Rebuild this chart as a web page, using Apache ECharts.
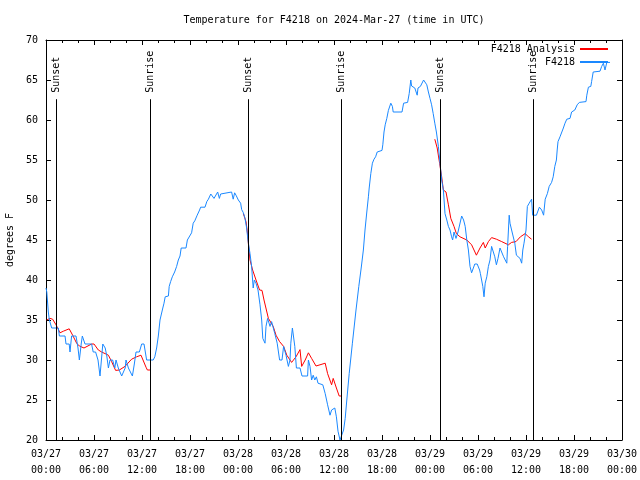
<!DOCTYPE html>
<html>
<head>
<meta charset="utf-8">
<script src="https://cdn.jsdelivr.net/npm/echarts@6/dist/echarts.min.js"></script>
<style>
html,body{margin:0;padding:0;background:#fff;}
#chart{width:640px;height:480px;}
</style>
</head>
<body>
<div id="chart"></div>
<script>
// ---- Data (hours since 2024-03-27 00:00 UTC, temperatures in degrees F) ----
const chartTitle = 'Temperature for F4218 on 2024-Mar-27 (time in UTC)';
const yAxisTitle = 'degrees F';
const xDateLabels = ['03/27','03/27','03/27','03/27','03/28','03/28','03/28','03/28','03/29','03/29','03/29','03/29','03/30'];
const xTimeLabels = ['00:00','06:00','12:00','18:00','00:00','06:00','12:00','18:00','00:00','06:00','12:00','18:00','00:00'];
const yMin = 20, yMax = 70, yStep = 5;
const xMin = 0, xMax = 72, xStep = 6;

const seriesNames = ['F4218 Analysis', 'F4218'];

// Observations (F4218)
const obsHours = [
  0.0,0.1,0.29,0.42,0.71,1.54,1.67,2.38,2.5,2.9,3.0,3.2,3.75,4.0,4.17,4.4,4.54,4.875,5.7,5.9,6.2,6.5,6.75,7.1,7.4,7.6,7.8,8.0,8.33,8.6,8.75,9.04,9.46,9.9,10.0,10.3,10.8,11.04,11.25,11.67,11.96,12.25,12.58,13.4,13.6,13.83,14.04,14.25,
  14.34,14.6,14.75,14.9,15.3,15.4,15.58,15.79,16.08,16.33,16.54,16.75,16.9,17.5,17.67,17.9,18.2,18.4,18.6,18.9,19.2,19.33,19.875,20.1,20.3,20.6,20.7,21.0,21.25,21.46,21.67,21.83,22.0,23.2,23.4,23.58,23.75,24.04,24.33,24.46,24.67,24.875,25.08,
  25.2,25.3,25.5,25.7,25.9,26.04,26.25,26.5,26.75,26.96,27.1,27.375,27.5,27.7,28.0,28.2,28.4,28.6,28.9,29.2,29.5,29.7,30.0,30.3,30.5,30.6,30.8,31.0,31.1,31.3,31.75,32.0,32.7,32.8,33.0,33.2,33.4,33.6,33.8,34.0,34.6,34.9,35.2,35.5,35.7,36.1,36.3,36.5,36.75,37.0,37.2,37.4,37.6,37.9,38.3,38.75,39.1,39.4,
  39.67,39.875,40.1,40.3,40.4,40.6,40.8,41.0,41.2,41.4,42.0,42.1,42.25,42.4,42.6,42.8,43.1,43.3,43.4,44.5,44.7,45.2,45.4,45.6,45.7,46.1,46.4,46.5,46.8,47.2,47.4,47.6,47.8,48.0,48.2,48.4,48.6,
  48.8,49.05,49.25,49.46,49.67,49.875,50.1,50.3,50.5,50.7,50.83,51.0,51.25,51.5,51.75,51.96,52.2,52.4,52.6,52.8,53.0,53.2,53.4,53.6,53.9,54.2,54.3,54.6,54.75,54.9,55.1,55.3,55.5,55.7,55.9,56.1,56.3,56.5,56.75,56.96,57.2,57.4,57.6,57.7,57.9,58.0,58.2,58.4,58.6,58.8,59.04,59.25,59.46,59.6,59.75,59.9,60.0,60.17,60.4,60.7,
  60.83,61.3,61.67,61.96,62.2,62.4,62.67,62.9,63.2,63.4,63.6,63.8,63.9,64.0,64.25,64.46,64.67,64.875,65.1,65.5,65.7,66.1,66.4,66.67,67.5,67.6,67.8,68.1,68.2,68.4,69.25,69.46,69.67,69.875,70.1,70.5
];
const obsTemps = [
  39,38.5,36,35,34,34,33,33,32,32,31,33,33,31.5,30,32,33,32,32,31,31,30,28,32,31.5,30.5,29,30,30,29,30,29,28,29,30,29,28,29.5,31,31,32,32,30,30,30.4,31.5,33,35,
  35,36.5,37.1,37.9,38,39.2,39.8,40.4,41,41.7,42.5,43,44,44,45,45.2,45.9,47.1,47.4,48.1,48.75,49.1,49.1,49.8,50.1,50.75,51,50.2,50.1,51,50.2,50.75,51,51,50.1,50.9,50.6,50,49.6,48.8,48.4,47.7,46.5,
  45.4,44.6,43.3,41.7,39,40,39.6,38.75,36.9,35,32.7,32.1,34.2,35.2,34.2,34.8,35,33.3,32.1,30,30,31.7,30.6,29.2,30,32.1,34,34,31.7,29,29,28,28,30,29.2,27.5,28.1,27.5,27.9,27.1,26.9,25.8,24.4,23.1,23.75,24,22.9,21.1,20,20,21.25,22.7,25,28.3,32.1,36.25,39.2,41.5,
  43.75,46.25,48.5,50.4,51.5,53.3,54.6,55.1,55.4,56,56.2,56.9,58.5,59.4,60.2,61.2,62.1,61.7,61,61,62.1,62.2,63.3,65,64.25,64,63.1,64,64.2,65,65,64.4,63.5,62.7,61.9,60.8,59.6,
  58.5,56.7,54.6,52.5,51.25,48.3,47.5,46.7,46.25,45.4,45,46,45.2,46,46,48,47.5,46.7,45,43.75,41.7,40.9,40.9,42,42,41.25,40.8,39.2,37.9,39.6,40.4,41.7,42.5,44.2,44,42.9,41.9,42.7,44,44,42.9,42.7,42.1,44.2,48.1,47.1,46.25,46.25,44.6,43.1,42.9,42.7,42.1,43.75,44.6,44.4,46.25,49.2,49.6,50.1,
  48.1,48.1,49.1,48.75,48.1,50.1,50.8,51.7,52.2,52.9,54.2,55,56.25,57.3,57.9,58.1,59,59.6,60.1,60.2,61,61.25,61.9,62.2,62.3,63.1,64.1,64.2,64.8,66,66.1,66.7,67.1,66.25,67.2,67.2
];

// Analysis (F4218 Analysis), null = gap between nights
const anaHours = [
  0.08,0.5,0.83,1.25,1.75,2.17,2.9,3.33,3.83,4.17,4.75,5.7,6.0,6.54,6.96,7.8,8.2,8.7,9.17,9.875,10.7,11.33,11.875,12.08,12.5,12.67,13.0,
  18.0,
  24.67,25.0,25.17,25.33,25.5,25.83,26.25,26.7,27.0,27.25,27.8,28.4,28.75,29.2,29.7,30.1,30.7,31.25,31.75,31.96,32.4,32.8,33.2,33.75,34.25,34.9,35.2,35.7,35.9,36.3,36.65,36.875,
  42.0,
  48.6,48.75,48.9,49.2,49.46,49.67,50.0,50.3,50.6,51.0,51.3,51.75,52.6,53.2,53.8,54.25,54.67,54.9,55.3,55.7,56.3,56.96,57.8,58.2,58.75,59.3,59.9,60.3,60.7
];
const anaTemps = [
  35,35.2,35.1,34.4,33.4,33.6,33.9,33.1,32.1,31.75,31.5,32,32,31.25,31,30.6,29.8,28.7,28.75,29.2,30.1,30.4,30.6,30.4,29.1,28.75,28.75,
  null,
  48.3,47.3,46,44.2,42.5,41.25,40,38.75,38.7,37.5,35.2,34.2,33.1,32.3,31.7,30.6,29.7,30.4,31.3,29.2,30,30.9,30.2,29.25,29.4,29.6,28.3,26.9,27.7,26.5,25.5,25.5,
  null,
  57.6,57.6,56.5,54.6,52.9,51.25,51,49.4,47.7,46.7,45.8,45.4,45,44.4,43.1,44,44.7,44,44.8,45.3,45.1,44.8,44.4,44.7,44.8,45.4,45.8,45.4,45.1
];

// Sunset / sunrise markers
const eventHours = [1.29, 13.04, 25.29, 36.91, 49.34, 60.96];
const eventNames = ['Sunset','Sunrise','Sunset','Sunrise','Sunset','Sunrise'];
const eventLineTop = 62.6;   // where the vertical line ends (data units)
const eventLabelBase = 63.4; // where the rotated label starts (data units)

// ---- Chart ----
const FONT = '"DejaVu Sans Mono", "Liberation Mono", monospace';
const txt = { fontFamily: FONT, fontSize: 10, color: '#000' };

const obsData = obsHours.map((h, i) => [h, obsTemps[i]]);
const anaData = anaHours.map((h, i) => [h, anaTemps[i] === null ? '-' : anaTemps[i]]);

const markData = [];
eventHours.forEach((h, i) => {
  markData.push([{ coord: [h, yMin] }, { coord: [h, eventLineTop] }]);
  markData.push([
    { coord: [h, eventLabelBase], lineStyle: { color: 'rgba(0,0,0,0)' },
      label: { show: true, position: 'insideStart', distance: 0, opacity: 1, formatter: eventNames[i],
               fontFamily: FONT, fontSize: 10, color: '#000' } },
    { coord: [h, yMax] }
  ]);
});

const tickCommon = {
  axisLine: { show: true, onZero: false, lineStyle: { color: '#000', width: 1 } },
  axisTick: { show: true, inside: true, length: 5, lineStyle: { color: '#000', width: 1 } },
  splitLine: { show: false }
};

const chart = echarts.init(document.getElementById('chart'), null, { renderer: 'canvas' });
chart.setOption({
  animation: false,
  backgroundColor: '#fff',
  textStyle: { fontFamily: FONT },
  grid: { left: 46, right: 18, top: 40, bottom: 40, containLabel: false, outerBoundsMode: 'none' },
  graphic: [{
    type: 'text', x: 334, y: 20, silent: true,
    style: { text: chartTitle, align: 'center', verticalAlign: 'middle', textAlign: 'center', textVerticalAlign: 'middle',
             font: '10px ' + FONT, fill: '#000' }
  }],
  legend: [
    { data: [seriesNames[0]], right: 31, top: 44, align: 'right', orient: 'vertical', padding: 0,
      itemWidth: 28, itemHeight: 10, itemStyle: { opacity: 0 }, selectedMode: false, textStyle: txt },
    { data: [seriesNames[1]], right: 31, top: 57, align: 'right', orient: 'vertical', padding: 0,
      itemWidth: 28, itemHeight: 10, itemStyle: { opacity: 0 }, selectedMode: false, textStyle: txt }
  ],
  xAxis: [
    Object.assign({
      type: 'value', position: 'bottom', min: xMin, max: xMax, interval: xStep,
      minorTick: { show: true, splitNumber: 3, length: 3, lineStyle: { color: '#000', width: 1 } },
      minorSplitLine: { show: false },
      axisLabel: {
        show: true, margin: 6, lineHeight: 16, fontFamily: FONT, fontSize: 10, color: '#000',
        formatter: v => { const k = Math.round((v - xMin) / xStep); return xDateLabels[k] + '\n' + xTimeLabels[k]; }
      }
    }, tickCommon),
    Object.assign({
      type: 'value', position: 'top', min: xMin, max: xMax, interval: xStep,
      minorTick: { show: true, splitNumber: 3, length: 3, lineStyle: { color: '#000', width: 1 } },
      minorSplitLine: { show: false },
      axisLabel: { show: false }
    }, tickCommon)
  ],
  yAxis: [
    Object.assign({
      type: 'value', position: 'left', min: yMin, max: yMax, interval: yStep,
      name: yAxisTitle, nameLocation: 'middle', nameGap: 31, nameRotate: 90,
      nameTextStyle: txt,
      axisLabel: { show: true, margin: 8, fontFamily: FONT, fontSize: 10, color: '#000' }
    }, tickCommon),
    Object.assign({
      type: 'value', position: 'right', min: yMin, max: yMax, interval: yStep,
      axisLabel: { show: false }
    }, tickCommon)
  ],
  series: [
    { name: seriesNames[0], type: 'line', data: anaData, symbol: 'none', showSymbol: false,
      connectNulls: false, color: '#ff0000', lineStyle: { color: '#ff0000', width: 1 }, z: 2, silent: true },
    { name: seriesNames[1], type: 'line', data: obsData, symbol: 'none', showSymbol: false,
      color: '#1a88ff', lineStyle: { color: '#1a88ff', width: 1 }, z: 3, silent: true },
    { name: 'events', type: 'line', data: [], z: 4, silent: true,
      markLine: { silent: true, animation: false, symbol: ['none', 'none'],
                  label: { show: false },
                  lineStyle: { color: '#000', width: 1, type: 'solid' },
                  emphasis: { disabled: true },
                  data: markData } }
  ]
});
</script>
</body>
</html>
